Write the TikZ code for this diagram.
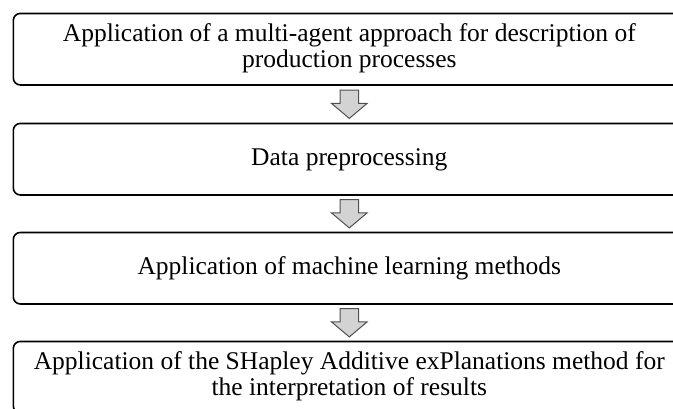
\documentclass[tikz,border=0pt]{standalone}
\usepackage{fontspec}
\setmainfont{Liberation Serif}
\usetikzlibrary{calc}
\definecolor{arrowfill}{HTML}{D3D3D3}
\definecolor{arrowline}{HTML}{505050}
\tikzset{
  stagebox/.style={draw=black, line width=1.6pt, rounded corners=7pt,
    minimum width=672pt, minimum height=71.5pt, inner sep=0pt},
  stagetext/.style={anchor=base, inner sep=0pt, font=\fontsize{25.5}{26}\selectfont},
  downarrow/.pic={
    \draw[fill=arrowfill, draw=arrowline, line width=1pt, line join=miter]
      (-9.3,-14.2) -- (9.3,-14.2) -- (9.3,-0.8) -- (17.8,-0.8) -- (0,14.2)
      -- (-17.8,-0.8) -- (-9.3,-0.8) -- cycle;
  }
}
\begin{document}
\begin{tikzpicture}[x=1pt,y=-1pt]
\useasboundingbox (0,0) rectangle (673,408);
\node[stagebox] (b1) at (349.3,49.2) {};
\node[stagebox] (b2) at (349.3,159.2) {};
\node[stagebox] (b3) at (349.3,268.2) {};
\node[stagebox] (b4) at (349.3,377.2) {};
\node[stagetext] (t1) at ($(b1.north)+(0,28.5)$) {\parbox[t]{660pt}{\centering Application of a multi-agent approach for description of\\ production processes}};
\node[stagetext] (t2) at ($(b2.north)+(0,43.2)$) {Data preprocessing};
\node[stagetext] (t3) at ($(b3.north)+(0,42.7)$) {Application of machine learning methods};
\node[stagetext] (t4) at ($(b4.north)+(0,28.5)$) {\parbox[t]{660pt}{\centering Application of the SHapley Additive exPlanations method for\\ the interpretation of results}};
\coordinate (a1) at ($(b1.south)!0.5!(b2.north)$);
\coordinate (a2) at ($(b2.south)!0.5!(b3.north)$);
\coordinate (a3) at ($(b3.south)!0.5!(b4.north)$);
\pic at (a1) {downarrow};
\pic at (a2) {downarrow};
\pic at (a3) {downarrow};
\end{tikzpicture}
\end{document}
